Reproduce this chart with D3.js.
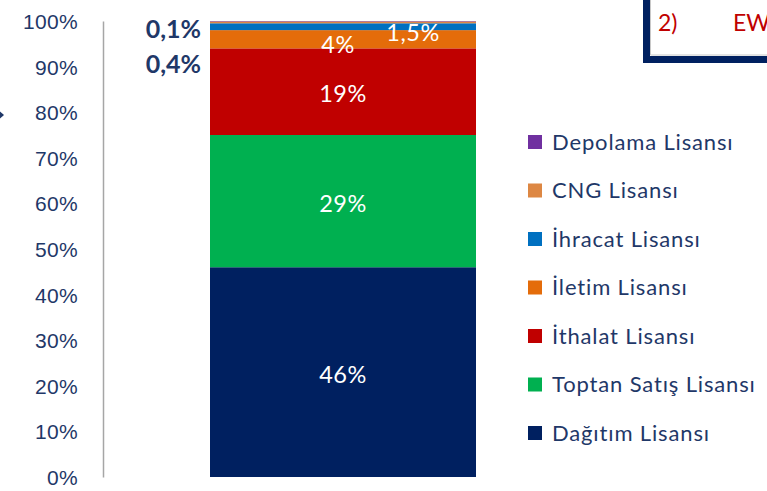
<!DOCTYPE html>
<html>
<head>
<meta charset="utf-8">
<script src="https://cdn.jsdelivr.net/npm/d3@7"></script>
<style>
  html, body { margin: 0; padding: 0; background: #ffffff; }
  svg { display: block; font-family: Lato, "Open Sans", sans-serif; }
</style>
</head>
<body>
<svg id="chart" width="767" height="491"></svg>
<script>
// License shares, stacked bottom to top
const licenses = ["Dağıtım Lisansı", "Toptan Satış Lisansı", "İthalat Lisansı", "İletim Lisansı", "İhracat Lisansı", "CNG Lisansı", "Depolama Lisansı"];
const shares = [46, 29, 19, 4, 1.5, 0.4, 0.1];
const shareLabels = ["46%", "29%", "19%", "4%", "1,5%", "0,4%", "0,1%"];
const colors = ["#002060", "#00b050", "#c00000", "#e46c0a", "#0070c0", "#dd8743", "#7030a0"];
const tickValues = [0, 10, 20, 30, 40, 50, 60, 70, 80, 90, 100];
const tickLabels = ["0%", "10%", "20%", "30%", "40%", "50%", "60%", "70%", "80%", "90%", "100%"];
const category = ["Lisanslar"];

const svg = d3.select("#chart");
const textColor = "#1f3868";

const y = d3.scaleLinear().domain([0, 100]).range([477, 21]);
const x = d3.scaleBand().domain(category).range([210, 476]).padding(0);

// Cumulative stack
const stack = [];
let acc = 0;
shares.forEach((v, i) => {
  stack.push({ name: licenses[i], value: v, y0: acc, y1: acc + v, color: colors[i], label: shareLabels[i] });
  acc += v;
});

// Y axis
const axis = d3.axisLeft(y)
  .tickValues(tickValues)
  .tickFormat((d, i) => tickLabels[i])
  .tickSizeInner(0)
  .tickSizeOuter(0)
  .tickPadding(25);

const gAxis = svg.append("g").attr("transform", "translate(103,0)").call(axis);
gAxis.select(".domain").attr("stroke", "#a6a6a6").attr("stroke-width", 1.5);
gAxis.selectAll(".tick text")
  .attr("fill", textColor)
  .style("font-size", "21px")
  .style("letter-spacing", "0.3px")
  .attr("dy", "0.36em");

// Stacked segments
svg.append("g").selectAll("rect")
  .data(stack)
  .join("rect")
  .attr("x", x(category[0]))
  .attr("width", x.bandwidth())
  .attr("y", d => y(d.y1))
  .attr("height", d => y(d.y0) - y(d.y1))
  .attr("fill", d => d.color);

// In-bar labels
const cx = x(category[0]) + x.bandwidth() / 2;
const inside = stack.slice(0, 5);
const insideShift = { "4%": [-5, 5], "1,5%": [70, 6] };
svg.append("g").selectAll("text")
  .data(inside)
  .join("text")
  .attr("x", d => cx + (insideShift[d.label] ? insideShift[d.label][0] : 0))
  .attr("y", d => y((d.y0 + d.y1) / 2) + (insideShift[d.label] ? insideShift[d.label][1] : 2))
  .attr("dy", "0.36em")
  .attr("text-anchor", "middle")
  .attr("fill", "#ffffff")
  .style("font-size", "23.5px")
  .style("letter-spacing", "0.5px")
  .text(d => d.label);

// Small segments labelled outside, to the left of the bar
const outside = [
  { d: stack[6], at: 98.2 },
  { d: stack[5], at: 90.6 }
];
svg.append("g").selectAll("text")
  .data(outside)
  .join("text")
  .attr("x", x(category[0]) - 9)
  .attr("y", o => y(o.at))
  .attr("dy", "0.36em")
  .attr("text-anchor", "end")
  .attr("fill", textColor)
  .style("font-size", "25px")
  .style("font-weight", "bold")
  .text(o => o.d.label);

// Legend, top entry is the last stacked series
const legendItems = stack.slice().reverse();
const legend = svg.append("g").attr("transform", "translate(528,142)");
const row = legend.selectAll("g")
  .data(legendItems)
  .join("g")
  .attr("transform", (d, i) => `translate(0,${i * 48.5})`);
row.append("rect")
  .attr("x", 0).attr("y", -7)
  .attr("width", 14).attr("height", 14)
  .attr("fill", d => d.color);
row.append("text")
  .attr("x", 24).attr("y", 0)
  .attr("dy", "0.36em")
  .attr("fill", textColor)
  .style("font-size", "22px")
  .style("letter-spacing", "0.85px")
  .text(d => d.name);

// Framed heading box at the top right, partly outside the view
svg.append("rect")
  .attr("x", 646.5).attr("y", -20)
  .attr("width", 200).attr("height", 79.5)
  .attr("fill", "#ffffff")
  .attr("stroke", "#002060")
  .attr("stroke-width", 7);
svg.append("line")
  .attr("x1", 650.5).attr("x2", 767)
  .attr("y1", 55).attr("y2", 55)
  .attr("stroke", "#c8c8c8").attr("stroke-width", 1);
svg.append("line")
  .attr("x1", 650.5).attr("x2", 650.5)
  .attr("y1", 0).attr("y2", 55)
  .attr("stroke", "#c8c8c8").attr("stroke-width", 1);
svg.append("text")
  .attr("x", 658).attr("y", 31)
  .attr("fill", "#c00000")
  .style("font-size", "23px")
  .text("2)");
svg.append("text")
  .attr("x", 733).attr("y", 31)
  .attr("fill", "#c00000")
  .style("font-size", "23px")
  .text("EW");

// Small navigation marker at the left edge
svg.append("path")
  .attr("d", "M-4,108 L4,115 L-4,122 Z")
  .attr("fill", "#1f3868");
</script>
</body>
</html>
